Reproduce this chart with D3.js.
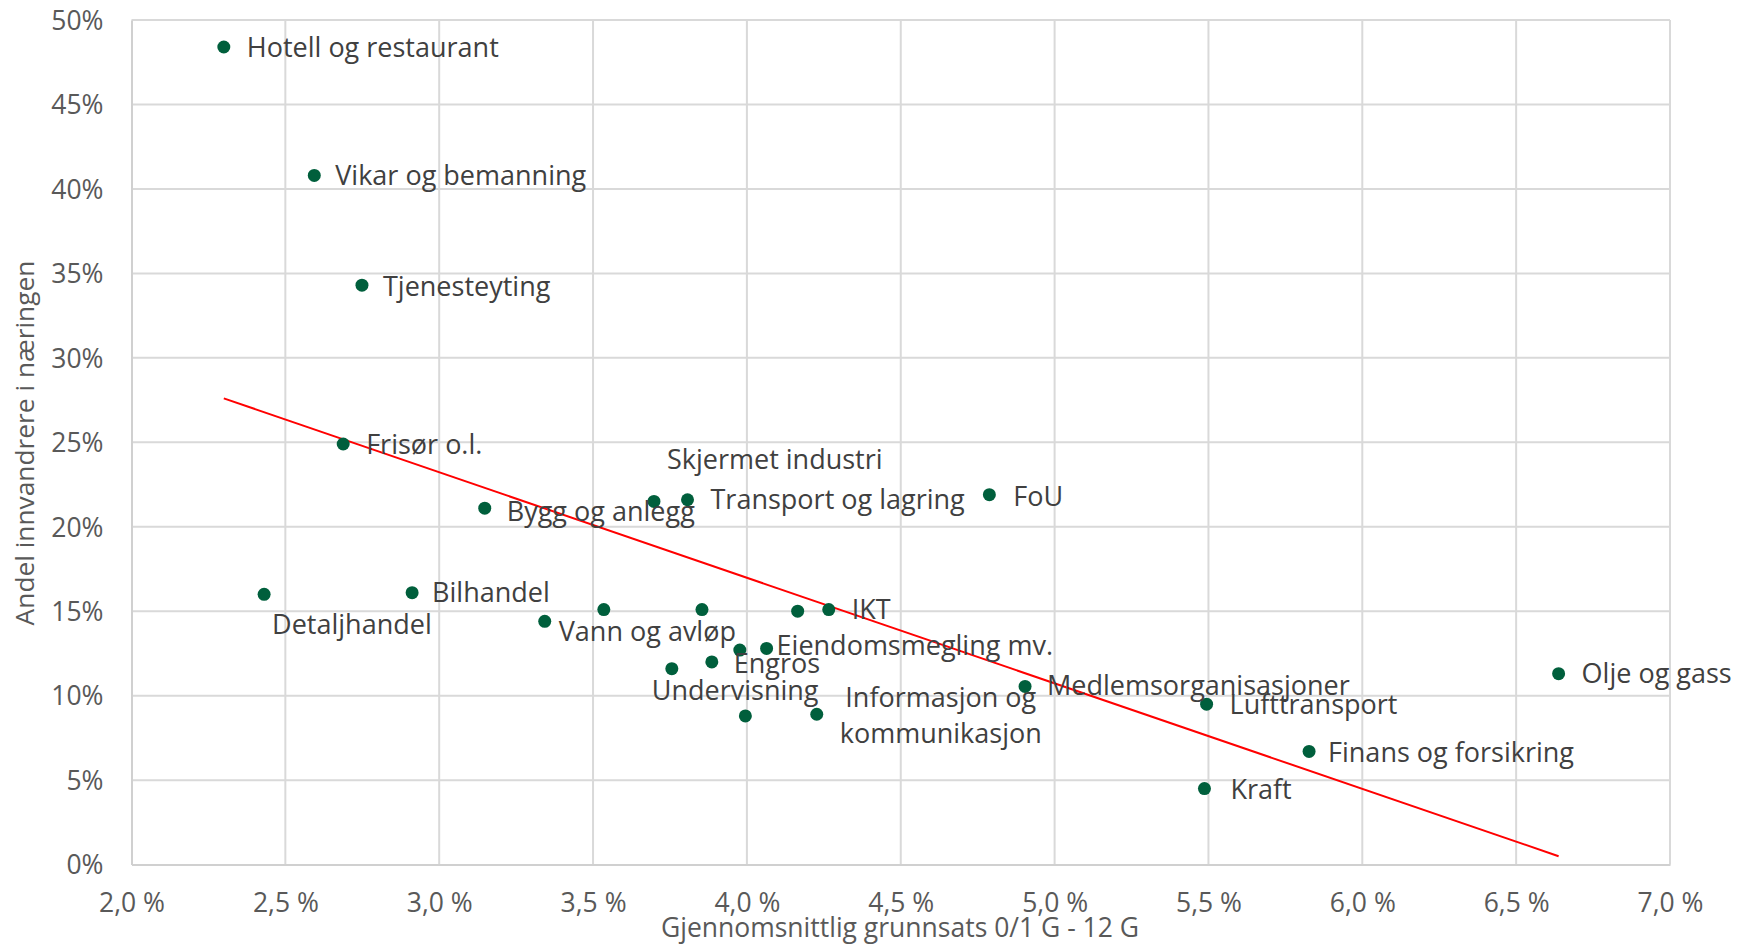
<!DOCTYPE html>
<html><head><meta charset="utf-8">
<script src="https://cdn.jsdelivr.net/npm/d3@7"></script>
<style>
html,body{margin:0;padding:0;background:#fff;}
svg{display:block;}
text{font-family:"Open Sans","Lato",sans-serif;}
</style></head>
<body>
<svg id="chart" width="1747" height="945"></svg>
<script>
// ---- data ----
const names = ["Hotell og restaurant","Vikar og bemanning","Tjenesteyting","Frisør o.l.","Bygg og anlegg",
  "Detaljhandel","Bilhandel","Vann og avløp","","","","IKT","","Eiendomsmegling mv.","Engros","Undervisning",
  "","Informasjon og\nkommunikasjon","Skjermet industri","Transport og lagring","FoU","Medlemsorganisasjoner",
  "Lufttransport","Finans og forsikring","Kraft","Olje og gass"];
const grunnsats = [2.300,2.594,2.749,2.688,3.148,2.431,2.912,3.343,3.535,3.854,4.165,4.266,3.977,4.064,3.886,3.756,
  3.995,4.227,3.698,3.807,4.788,4.904,5.494,5.827,5.487,6.638];
const innvandrere = [48.4,40.8,34.3,24.9,21.1,16.0,16.1,14.4,15.1,15.1,15.0,15.1,12.7,12.8,12.0,11.6,
  8.8,8.9,21.5,21.6,21.9,10.55,9.5,6.7,4.5,11.3];
const xTicks = [2.0,2.5,3.0,3.5,4.0,4.5,5.0,5.5,6.0,6.5,7.0];
const yTicks = [0,5,10,15,20,25,30,35,40,45,50];
const xTitle = "Gjennomsnittlig grunnsats 0/1 G - 12 G";
const yTitle = "Andel innvandrere i næringen";

// ---- label layout (pixel offsets from point) ----
const labelDx = [23,21,21,23,22,8,20,14,0,0,0,23,0,10,22,-20,0,124,13,23,24,22,23,19,26,23];
const labelDy = [1,0,1,1,3,30,0,10,0,0,0,0,0,-3,2,22,0,1,-42,0,2,-1,0,1,1,0];
const labelAnchor = names.map((n,i)=> i===17 ? "middle" : "start");

const svg = d3.select("#chart");
const m = {left:131.5, right:1670, top:20, bottom:864.6};
const x = d3.scaleLinear().domain([2,7]).range([m.left,m.right]);
const y = d3.scaleLinear().domain([0,50]).range([m.bottom,m.top]);

const data = names.map((n,i)=>({name:n, x:grunnsats[i], y:innvandrere[i], dx:labelDx[i], dy:labelDy[i], anchor:labelAnchor[i]}));

// gridlines
const g = svg.append("g");
g.selectAll("line.h").data(yTicks.filter(d=>d>0)).join("line")
  .attr("x1",m.left).attr("x2",m.right).attr("y1",d=>y(d)).attr("y2",d=>y(d))
  .attr("stroke","#d9d9d9").attr("stroke-width",2);
g.selectAll("line.v").data(xTicks.filter(d=>d>2)).join("line")
  .attr("y1",m.top).attr("y2",m.bottom).attr("x1",d=>x(d)).attr("x2",d=>x(d))
  .attr("stroke","#d9d9d9").attr("stroke-width",2);

// axes via d3
const xAxis = svg.append("g").attr("transform",`translate(0,${m.bottom})`)
  .call(d3.axisBottom(x).tickValues(xTicks).tickSize(0).tickPadding(28)
    .tickFormat(d=>d3.format(".1f")(d).replace(".",",")+" %"));
const yAxis = svg.append("g").attr("transform",`translate(${m.left},0)`)
  .call(d3.axisLeft(y).tickValues(yTicks).tickSize(0).tickPadding(28).tickFormat(d=>d+"%"));
[xAxis,yAxis].forEach(a=>{
  a.select(".domain").attr("stroke","#d0d0d0").attr("stroke-width",2);
  a.selectAll("text").attr("font-size",26.5).attr("fill","#595959")
   .style("font-family",'"Open Sans",sans-serif');
});
yAxis.selectAll("text").attr("dy","0.35em");
xAxis.selectAll("text").attr("dy","0.35em").attr("y",38);

// trend line (least squares from the data)
const mx = d3.mean(grunnsats), my = d3.mean(innvandrere);
const slope = d3.sum(grunnsats,(v,i)=>(v-mx)*(innvandrere[i]-my))/d3.sum(grunnsats,v=>(v-mx)*(v-mx));
const icpt = my - slope*mx;
const ext = d3.extent(grunnsats);
svg.append("path").datum(ext.map(v=>[v, icpt+slope*v]))
  .attr("d", d3.line().x(d=>x(d[0])).y(d=>y(d[1])))
  .attr("stroke","#ff0000").attr("stroke-width",2).attr("fill","none");

// points
svg.append("g").selectAll("circle").data(data).join("circle")
  .attr("cx",d=>x(d.x)).attr("cy",d=>y(d.y)).attr("r",6.5).attr("fill","#005f3c");

// labels
const lab = svg.append("g").selectAll("text").data(data.filter(d=>d.name)).join("text")
  .attr("x",d=>x(d.x)+d.dx).attr("y",d=>y(d.y)+d.dy)
  .attr("text-anchor",d=>d.anchor).attr("font-size",27).attr("fill","#404040");
lab.each(function(d){
  const lines = d.name.split("\n");
  const t = d3.select(this);
  lines.forEach((ln,k)=>{
    t.append("tspan").attr("x",x(d.x)+d.dx)
     .attr("dy", k===0 ? ((0.35 - (lines.length-1)*0.67)+"em") : "1.34em").text(ln);
  });
});

// axis titles
svg.append("text").attr("x",900).attr("y",928).attr("dy","0.35em")
  .attr("text-anchor","middle").attr("font-size",26.5).attr("fill","#595959").text(xTitle);
svg.append("text").attr("transform","translate(25,443) rotate(-90)").attr("dy","0.35em")
  .attr("text-anchor","middle").attr("font-size",26.3).attr("fill","#595959").text(yTitle);
</script>
</body></html>
